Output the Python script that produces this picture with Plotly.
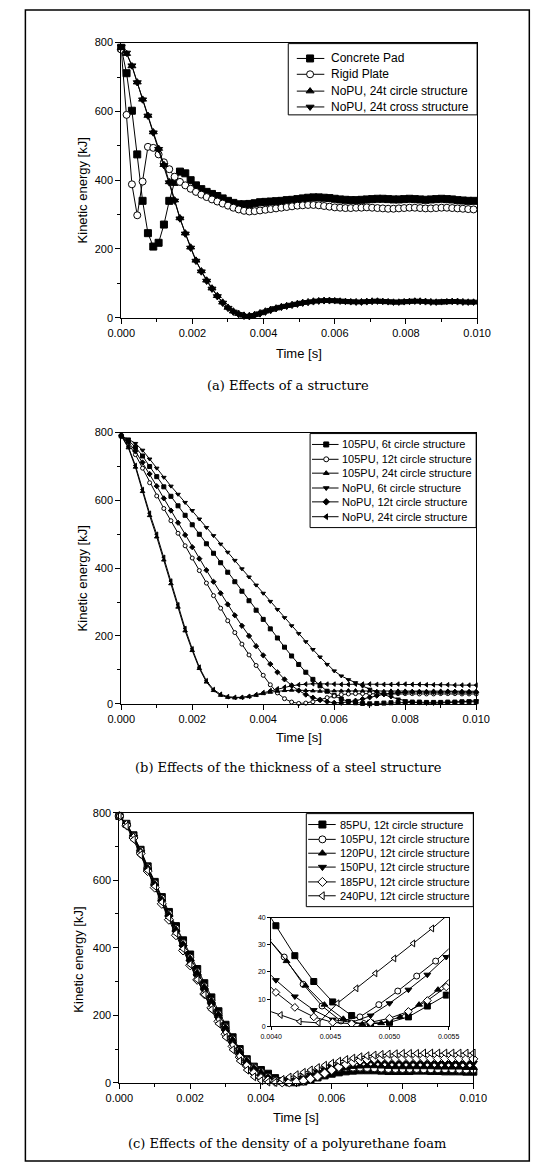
import plotly.graph_objects as go

W, H = 549, 1170

# ---------------- data: panel (a) ----------------
T_A = [round(i * 0.00015, 5) for i in range(67)]
CONCRETE = [785, 711, 602, 475, 340, 246, 207, 218, 271, 340, 395, 425, 420, 400, 385, 374, 366, 360,
            354, 347, 340, 334, 330, 330, 331, 333, 336, 337, 338, 339, 340, 342, 343, 345, 347, 349,
            350, 350, 349, 348, 346, 344, 343, 342, 342, 343, 344, 345, 346, 346, 345, 344, 344, 345,
            346, 345, 344, 343, 344, 345, 346, 345, 344, 342, 341, 340, 340]
RIGID = [780, 590, 388, 298, 396, 497, 494, 475, 452, 432, 410, 395, 385, 375, 366, 358, 351, 344,
         338, 332, 326, 320, 315, 311, 309, 310, 312, 314, 316, 318, 320, 322, 324, 326, 327, 328,
         328, 327, 325, 323, 321, 320, 319, 319, 320, 320, 321, 320, 319, 318, 317, 317, 318, 319,
         320, 320, 319, 318, 318, 319, 320, 320, 319, 318, 317, 316, 315]
NOPU24_CIRCLE = [785, 768, 732, 685, 635, 588, 540, 492, 445, 395, 342, 290, 246, 205, 167, 136, 109, 86,
                 64, 45, 30, 19, 12, 7, 6, 9, 14, 19, 24, 28, 32, 35, 38, 41, 44, 46,
                 48, 49, 50, 50, 49, 48, 47, 46, 46, 46, 47, 48, 48, 47, 46, 45, 45, 46,
                 47, 48, 48, 47, 46, 45, 45, 46, 47, 47, 46, 45, 45]
NOPU24_CROSS = [788, 770, 733, 684, 634, 587, 538, 490, 443, 393, 340, 288, 244, 203, 165, 134, 107, 84,
                62, 43, 28, 17, 10, 5, 4, 7, 12, 17, 22, 27, 31, 34, 37, 40, 43, 45,
                47, 49, 50, 50, 50, 49, 48, 47, 46, 46, 47, 48, 49, 48, 47, 46, 46, 47,
                48, 49, 48, 47, 46, 46, 47, 48, 48, 47, 46, 46, 46]

# ---------------- data: panel (b) ----------------
T_B = [round(i * 0.0002, 4) for i in range(51)]
B_105_6T = [790, 777, 757, 731, 700, 670, 640, 612, 584, 556, 528, 500, 472, 444, 416, 388, 360, 332,
            304, 276, 249, 221, 194, 167, 141, 116, 93, 72, 53, 37, 24, 14, 7, 3, 1, 0,
            1, 2, 3, 4, 5, 5, 5, 4, 4, 4, 5, 5, 6, 6, 6]
B_105_12T = [790, 768, 735, 695, 652, 613, 576, 540, 503, 466, 430, 393, 356, 319, 282, 245, 210, 176,
             144, 113, 84, 56, 32, 15, 5, 1, 2, 6, 12, 18, 23, 27, 29, 30, 30, 30,
             29, 29, 29, 30, 30, 30, 29, 29, 29, 30, 30, 30, 29, 29, 29]
B_105_24T = [790, 755, 698, 626, 555, 492, 424, 354, 285, 215, 157, 104, 64, 39, 25, 19, 17, 18,
             21, 25, 30, 34, 37, 39, 40, 40, 39, 38, 37, 37, 38, 38, 39, 39, 38, 38,
             37, 37, 38, 38, 38, 37, 37, 37, 38, 38, 38, 37, 37, 37, 37]
B_NOPU_6T = [790, 781, 768, 748, 722, 695, 668, 642, 618, 594, 570, 545, 520, 496, 471, 447, 423, 398,
             374, 350, 326, 302, 278, 254, 230, 207, 183, 160, 138, 116, 97, 82, 71, 62, 52, 43,
             35, 27, 20, 14, 9, 5, 2, 1, 1, 2, 3, 5, 6, 8, 9]
B_NOPU_12T = [790, 772, 745, 712, 678, 642, 606, 570, 534, 498, 462, 428, 394, 360, 326, 293, 261, 230,
              200, 170, 143, 117, 93, 72, 54, 39, 27, 18, 11, 6, 3, 3, 5, 9, 14, 19,
              24, 28, 31, 33, 34, 35, 35, 34, 34, 34, 35, 35, 34, 34, 34]
B_NOPU_24T = [792, 758, 703, 632, 562, 500, 432, 362, 292, 222, 162, 108, 68, 42, 28, 21, 19, 19,
              22, 27, 33, 39, 44, 49, 53, 56, 58, 59, 59, 58, 58, 57, 57, 58, 58, 58,
              57, 57, 57, 58, 58, 57, 57, 56, 56, 56, 56, 55, 55, 55, 55]

# ---------------- data: panel (c) ----------------
T_C = [round(i * 0.0002, 4) for i in range(51)]
C_85 = [790, 767, 733, 690, 641, 595, 550, 506, 464, 422, 380, 337, 295, 253, 212, 172, 135, 100,
        70, 48, 38, 27, 14, 5, 1.5, 1.5, 4, 10, 16, 22, 27, 31, 34, 36, 37, 37,
        37, 36, 35, 35, 35, 35, 36, 36, 35, 35, 34, 34, 34, 33, 33]
C_105 = [790, 766, 731, 688, 638, 591, 546, 501, 457, 414, 371, 328, 286, 244, 204, 165, 129, 96,
         67, 46, 32, 19, 8, 2, 5, 11, 17, 23, 30, 36, 41, 44, 45, 45, 45, 44,
         43, 42, 41, 41, 41, 41, 41, 40, 40, 40, 40, 40, 39, 39, 39]
C_120 = [790, 765, 730, 686, 636, 589, 543, 498, 454, 411, 368, 326, 284, 243, 203, 164, 128, 95,
         66, 45, 31, 18, 8, 2.5, 0.8, 2, 6, 12, 20, 28, 35, 41, 45, 48, 49, 50,
         50, 49, 48, 47, 47, 47, 47, 47, 47, 46, 46, 46, 46, 45, 45]
C_150 = [790, 764, 727, 682, 631, 583, 536, 490, 445, 401, 357, 314, 272, 230, 190, 151, 115, 83,
         55, 33, 18, 10, 4, 1.5, 4, 8.5, 15, 23, 31, 39, 46, 51, 55, 58, 59, 60,
         60, 60, 59, 59, 59, 59, 59, 59, 59, 58, 58, 58, 58, 58, 58]
C_185 = [790, 763, 725, 679, 627, 578, 530, 483, 437, 392, 348, 305, 263, 222, 182, 144, 108, 76,
         50, 29, 14, 7, 3, 1.2, 1.3, 3, 6.5, 12, 19, 28, 38, 47, 55, 61, 66, 69,
         71, 72, 72, 72, 72, 72, 72, 72, 72, 72, 72, 72, 72, 71, 71]
C_240 = [790, 760, 720, 675, 629, 582, 535, 489, 443, 397, 351, 306, 261, 217, 175, 135, 98, 65,
         38, 18, 6.5, 2.5, 1.3, 10, 17, 24, 31, 38, 45, 52, 58, 64, 69, 73, 77, 80,
         82, 84, 85, 86, 87, 87, 87, 88, 88, 88, 88, 88, 88, 88, 88]

# ---------------- data: inset of panel (c) ----------------
I_T_85 = [0.00388, 0.00404, 0.0042, 0.00436, 0.00452, 0.00468, 0.00484, 0.005, 0.00516, 0.00532, 0.00548, 0.00564]
I_V_85 = [48, 37, 26, 16.5, 9, 4, 1.2, 1.5, 3.5, 7.5, 11.5, 17]
I_T_105 = [0.00379, 0.00395, 0.00411, 0.00427, 0.00443, 0.00459, 0.00475, 0.00491, 0.00507, 0.00523, 0.00539, 0.00555]
I_V_105 = [45, 33.5, 25.5, 15.5, 7.5, 2, 3.5, 8, 13, 18.5, 24, 30.5]
I_T_120 = [0.00381, 0.00397, 0.00413, 0.00429, 0.00445, 0.00461, 0.00477, 0.00493, 0.00509, 0.00525, 0.00541, 0.00557]
I_V_120 = [42, 32.5, 24, 15, 8, 2.8, 0.8, 1.2, 3.5, 8, 13.5, 20]
I_T_150 = [0.00388, 0.00404, 0.0042, 0.00436, 0.00452, 0.00468, 0.00484, 0.005, 0.00516, 0.00532, 0.00548, 0.00564]
I_V_150 = [24, 17, 11, 6, 2.5, 1.5, 4, 8.5, 13.5, 19, 25.5, 32]
I_T_185 = [0.00388, 0.00404, 0.0042, 0.00436, 0.00452, 0.00468, 0.00484, 0.005, 0.00516, 0.00532, 0.00548, 0.00564]
I_V_185 = [20, 12.5, 7, 3.5, 1.5, 1, 1.5, 3, 5.5, 9.5, 14.5, 20]
I_T_240 = [0.00376, 0.00392, 0.00408, 0.00424, 0.0044, 0.00456, 0.00472, 0.00488, 0.00504, 0.0052, 0.00536, 0.00552]
I_V_240 = [9, 6.5, 4.2, 1.8, 1.3, 8.5, 14, 19.5, 25, 30.5, 36, 42]

# ---------------- labels ----------------
NAMES_A = ["Concrete Pad", "Rigid Plate", "NoPU, 24t circle structure", "NoPU, 24t cross structure"]
NAMES_B = ["105PU, 6t circle structure", "105PU, 12t circle structure", "105PU, 24t circle structure",
           "NoPU, 6t circle structure", "NoPU, 12t circle structure", "NoPU, 24t circle structure"]
NAMES_C = ["85PU, 12t circle structure", "105PU, 12t circle structure", "120PU, 12t circle structure",
           "150PU, 12t circle structure", "185PU, 12t circle structure", "240PU, 12t circle structure"]
CAPTIONS = ["(a) Effects of a structure",
            "(b) Effects of the thickness of a steel structure",
            "(c) Effects of the density of a polyurethane foam"]
Y_TITLE = "Kinetic energy [kJ]"
X_TITLE = "Time [s]"

# ---------------- styles ----------------
SYM_A = [("square", False), ("circle", True), ("triangle-up", False), ("triangle-down", False)]
SYM_B = [("square", False), ("circle", True), ("triangle-up", False),
         ("triangle-down", False), ("diamond", False), ("triangle-left", False)]
SYM_C = [("square", False), ("circle", True), ("triangle-up", False),
         ("triangle-down", False), ("diamond", True), ("triangle-left", True)]

SANS = "Liberation Sans, Arial, sans-serif"
SERIF = "DejaVu Serif, serif"


def xdom(l, r):
    return [l / W, r / W]


def ydom(t, b):
    return [1 - b / H, 1 - t / H]


fig = go.Figure()


def add_series(t, v, sym, open_, size, xa, ya, lw=1.0, clip=False):
    fig.add_trace(go.Scatter(
        x=t, y=v, mode="lines+markers", xaxis=xa, yaxis=ya,
        line=dict(color="black", width=lw),
        marker=dict(symbol=sym, size=size, color="white" if open_ else "black",
                    line=dict(color="black", width=1)),
        showlegend=False, cliponaxis=clip, hoverinfo="skip"))


# panel (a)
for v, (s, o) in zip([CONCRETE, RIGID, NOPU24_CIRCLE, NOPU24_CROSS], SYM_A):
    add_series(T_A, v, s, o, 7, "x", "y")
# panel (b)
for v, (s, o) in zip([B_105_6T, B_105_12T, B_105_24T, B_NOPU_6T, B_NOPU_12T, B_NOPU_24T], SYM_B):
    add_series(T_B, v, s, o, 4, "x2", "y2")
# panel (c)
for v, (s, o) in zip([C_85, C_105, C_120, C_150, C_185, C_240], SYM_C):
    add_series(T_C, v, s, o, 7, "x3", "y3")
# inset
for t, v, (s, o) in zip([I_T_85, I_T_105, I_T_120, I_T_150, I_T_185, I_T_240],
                        [I_V_85, I_V_105, I_V_120, I_V_150, I_V_185, I_V_240], SYM_C):
    add_series(t, v, s, o, 6, "x4", "y4", clip=True)

annotations = []
shapes = []


def legend_box(box, items, syms, size, lx0, lx1, mx, tx, ys, fsize):
    x0, x1, y0, y1 = box
    shapes.append(dict(type="rect", xref="x5", yref="y5", x0=x0, x1=x1, y0=y0, y1=y1,
                       line=dict(color="black", width=1), layer="above"))
    for name, (s, o), yc in zip(items, syms, ys):
        fig.add_trace(go.Scatter(x=[lx0, lx1], y=[yc, yc], mode="lines", xaxis="x5", yaxis="y5",
                                 line=dict(color="black", width=1), showlegend=False, hoverinfo="skip"))
        fig.add_trace(go.Scatter(x=[mx], y=[yc], mode="markers", xaxis="x5", yaxis="y5",
                                 marker=dict(symbol=s, size=size, color="white" if o else "black",
                                             line=dict(color="black", width=1)),
                                 showlegend=False, hoverinfo="skip", cliponaxis=False))
        annotations.append(dict(x=tx, y=yc, xref="x5", yref="y5", text=name, showarrow=False,
                                xanchor="left", yanchor="middle",
                                font=dict(family=SANS, size=fsize, color="black")))


legend_box((289, 488, 38, 110), NAMES_A, SYM_A, 7, 298, 327, 312, 332, [53, 69, 86, 102], 12)
legend_box((312, 487, 432, 527), NAMES_B, SYM_B, 5, 314, 342, 329, 344,
           [443, 458, 472, 487, 501, 516], 11)
legend_box((308, 484, 816, 910), NAMES_C, SYM_C, 7, 310, 339, 325, 341,
           [827, 842, 856, 870, 885, 899], 11)

# text: axis titles and captions
for x, y in [(72, 186), (72, 578), (68, 964)]:
    annotations.append(dict(x=x, y=y, xref="x5", yref="y5", text=Y_TITLE, showarrow=False,
                            textangle=-90, font=dict(family=SANS, size=13, color="black")))
for x, y in [(300, 351), (300, 739), (297, 1123)]:
    annotations.append(dict(x=x, y=y, xref="x5", yref="y5", text=X_TITLE, showarrow=False,
                            font=dict(family=SANS, size=13, color="black")))
for cap, (x, y) in zip(CAPTIONS, [(289, 383), (289, 769), (288, 1149)]):
    annotations.append(dict(x=x, y=y, xref="x5", yref="y5", text=cap, showarrow=False,
                            font=dict(family=SERIF, size=13, color="black")))

# outer frame
shapes.append(dict(type="rect", xref="x5", yref="y5", x0=12, x1=543, y0=4, y1=1167,
                   line=dict(color="black", width=1.5), layer="above"))

axis_common = dict(showline=True, linecolor="black", linewidth=1, mirror=True, ticks="outside",
                   ticklen=5, tickwidth=1, tickcolor="black", showgrid=False, zeroline=False,
                   tickfont=dict(family=SANS, size=11, color="black"), fixedrange=True)


def xaxis(dom, anchor):
    return dict(axis_common, domain=dom, anchor=anchor, range=[0, 0.01], dtick=0.002, tick0=0,
                tickformat=".3f",
                minor=dict(dtick=0.001, ticklen=3, ticks="outside", tickcolor="black"))


def yaxis(dom, anchor):
    return dict(axis_common, domain=dom, anchor=anchor, range=[0, 800], dtick=200, tick0=0,
                minor=dict(dtick=100, ticklen=3, ticks="outside", tickcolor="black"))


fig.update_layout(
    width=W, height=H, autosize=False,
    margin=dict(l=0, r=0, t=0, b=0, pad=0),
    paper_bgcolor="white", plot_bgcolor="rgba(0,0,0,0)",
    showlegend=False,
    xaxis=xaxis(xdom(113, 488), "y"), yaxis=yaxis(ydom(37, 315), "x"),
    xaxis2=xaxis(xdom(113, 487), "y2"), yaxis2=yaxis(ydom(431, 705), "x2"),
    xaxis3=xaxis(xdom(111, 484), "y3"), yaxis3=yaxis(ydom(815, 1088), "x3"),
    xaxis4=dict(axis_common, domain=xdom(271, 458), anchor="y4", range=[0.004, 0.0055],
                dtick=0.0005, tick0=0.004, tickformat=".4f", ticklen=3,
                tickfont=dict(family=SANS, size=7, color="black")),
    yaxis4=dict(axis_common, domain=ydom(921, 1031), anchor="x4", range=[0, 40], dtick=10,
                ticklen=3, tickfont=dict(family=SANS, size=7, color="black")),
    xaxis5=dict(domain=[0, 1], anchor="y5", range=[0, W], visible=False, fixedrange=True),
    yaxis5=dict(domain=[0, 1], anchor="x5", range=[H, 0], visible=False, fixedrange=True),
    annotations=annotations, shapes=shapes,
)

fig.write_html("out.html", include_plotlyjs=True, config={"displayModeBar": False})
